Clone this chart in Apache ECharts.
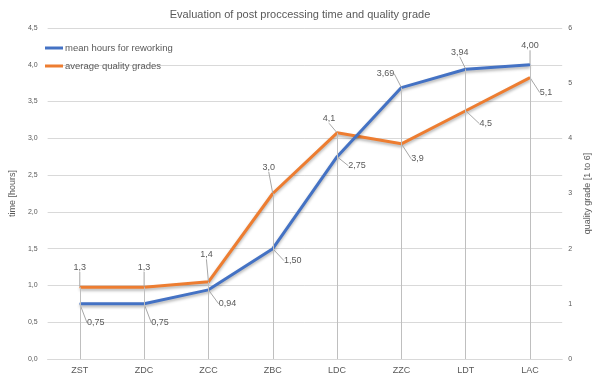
<!DOCTYPE html>
<html><head><meta charset="utf-8">
<script src="https://cdn.jsdelivr.net/npm/echarts@6/dist/echarts.min.js"></script>
<style>html,body{margin:0;padding:0;background:#fff}#c{width:600px;height:389px}</style>
</head><body><div id="c"></div>
<script>
var categories = ['ZST','ZDC','ZCC','ZBC','LDC','ZZC','LDT','LAC'];
var meanHours = [0.75, 0.75, 0.94, 1.50, 2.75, 3.69, 3.94, 4.00];
var qualityGrades = [1.3, 1.3, 1.4, 3.0, 4.1, 3.9, 4.5, 5.1];
var leftTicks = {min: 0, max: 4.5, interval: 0.5};
var rightTicks = {min: 0, max: 6, interval: 1};

// label offsets (style only)
var blueOff = [[16,19],[16,19],[19,14],[20,12],[20,9],[-16,-14],[-6,-17],[0,-19]];
var orangeOff = [[0,-20],[0,-20],[-2,-27],[-4,-26],[-8,-14],[16,15],[20,13],[16,15]];

var scale = leftTicks.max / rightTicks.max;
var dropData = categories.map(function(c,i){
  var top = Math.max(meanHours[i], qualityGrades[i]*scale);
  return [{coord:[i, top]},{coord:[i, 0]}];
});
var txt = '#595959';
var chart = echarts.init(document.getElementById('c'), null, {renderer:'canvas'});
chart.setOption({
  animation:false,
  title:{text:'Evaluation of post proccessing time and quality grade',left:'center',top:4,
    textStyle:{fontSize:11,fontWeight:'normal',color:txt,fontFamily:'Liberation Sans'}},
  legend:{orient:'vertical',left:40,top:38,itemWidth:18,itemHeight:3,itemGap:8,icon:'rect',
    textStyle:{fontSize:9.5,color:txt,fontFamily:'Liberation Sans',padding:[0,0,0,-3]},
    data:['mean hours for reworking','average quality grades']},
  grid:{left:47,right:33,top:28,bottom:30},
  xAxis:{type:'category',data:categories,boundaryGap:true,
    axisLine:{lineStyle:{color:'#d9d9d9'}},axisTick:{show:false},
    axisLabel:{color:txt,fontSize:9,fontFamily:'Liberation Sans',margin:7}},
  yAxis:[
    {type:'value',min:leftTicks.min,max:leftTicks.max,interval:leftTicks.interval,
     name:'time [hours]',nameLocation:'middle',nameGap:27,nameRotate:90,
     nameTextStyle:{color:txt,fontSize:9,fontFamily:'Liberation Sans'},
     axisLabel:{color:txt,fontSize:7,fontFamily:'Liberation Sans',margin:10,
       formatter:function(v){return v.toFixed(1).replace('.',',');}},
     splitLine:{lineStyle:{color:'#d9d9d9'}},axisLine:{show:false},axisTick:{show:false}},
    {type:'value',min:rightTicks.min,max:rightTicks.max,interval:rightTicks.interval,
     name:'quality grade [1 to 6]',nameLocation:'middle',nameGap:20,nameRotate:90,
     nameTextStyle:{color:txt,fontSize:9,fontFamily:'Liberation Sans'},
     axisLabel:{color:txt,fontSize:7,fontFamily:'Liberation Sans',margin:6},
     splitLine:{show:false},axisLine:{show:false},axisTick:{show:false}}
  ],
  series:[
    {name:'mean hours for reworking',type:'line',yAxisIndex:0,data:meanHours,
     symbol:'circle',symbolSize:1,showSymbol:true,itemStyle:{color:'#4472C4'},color:'#4472C4',z:4,
     lineStyle:{width:3,color:'#4472C4',shadowColor:'rgba(0,0,0,0.3)',shadowBlur:3,shadowOffsetY:2},
     label:{show:true,position:'inside',color:txt,fontSize:9,fontFamily:'Liberation Sans',
       formatter:function(p){return p.value.toFixed(2).replace('.',',');}},
     labelLine:{show:true,lineStyle:{color:'#a6a6a6',width:1}},
     labelLayout:function(p){var o=blueOff[p.dataIndex];return {dx:o[0],dy:o[1]};},
     markLine:{silent:true,symbol:'none',label:{show:false},
       lineStyle:{color:'#bfbfbf',width:1,type:'solid'},data:dropData}},
    {name:'average quality grades',type:'line',yAxisIndex:1,data:qualityGrades,
     symbol:'circle',symbolSize:1,showSymbol:true,itemStyle:{color:'#ED7D31'},color:'#ED7D31',z:3,
     lineStyle:{width:3,color:'#ED7D31',shadowColor:'rgba(0,0,0,0.3)',shadowBlur:3,shadowOffsetY:2},
     label:{show:true,position:'inside',color:txt,fontSize:9,fontFamily:'Liberation Sans',
       formatter:function(p){return p.value.toFixed(1).replace('.',',');}},
     labelLine:{show:true,lineStyle:{color:'#a6a6a6',width:1}},
     labelLayout:function(p){var o=orangeOff[p.dataIndex];return {dx:o[0],dy:o[1]};}}
  ]
});
</script></body></html>
